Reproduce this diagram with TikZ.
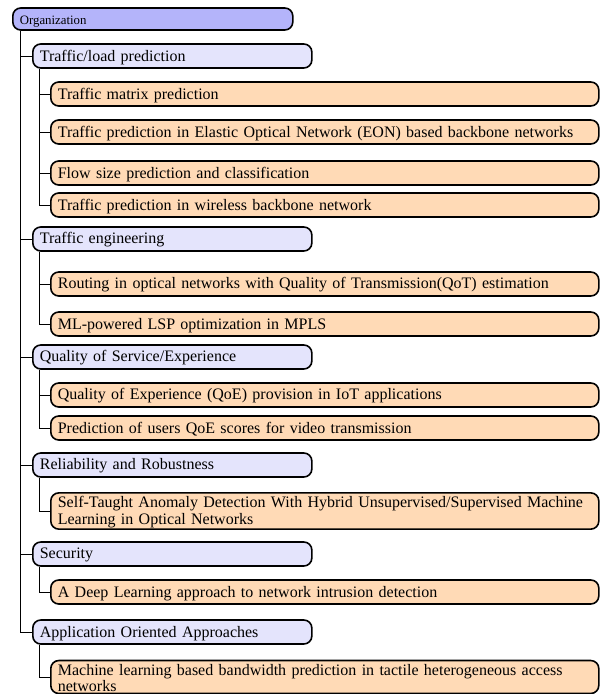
\documentclass[tikz,border=0pt]{standalone}
\usepackage{fontspec}
\setmainfont{Liberation Serif}
\usetikzlibrary{calc}
\definecolor{rootfill}{RGB}{180,180,250}
\definecolor{catfill}{RGB}{228,228,252}
\definecolor{leaffill}{RGB}{255,218,182}
\tikzset{
  box/.style={draw=black, line width=1pt, rounded corners=5pt, anchor=west,
    align=left, inner xsep=4.4pt, inner ysep=1pt,
    font=\fontsize{10}{9}\selectfont,
    execute at begin node={\rule{0pt}{8.4pt}}},
  rootbox/.style={box, fill=rootfill, text width=166.2pt, minimum height=13.75pt,
    font=\footnotesize, execute at begin node={\rule{0pt}{6.9pt}}},
  catbox/.style={box, fill=catfill, text width=165.6pt, minimum height=15pt},
  leafbox/.style={box, fill=leaffill, text width=333.7pt, minimum height=15pt},
  link/.style={draw=black, line width=0.6pt}
}
\begin{document}
\begin{tikzpicture}[x=0.625pt, y=-0.625pt]
\useasboundingbox (0,0) rectangle (602,694);

% root
\node[rootbox] (root) at (12,19) {Organization};

% categories
\node[catbox] (c1) at (32,56)  {Traffic/load prediction};
\node[catbox] (c2) at (32,239) {Traffic engineering};
\node[catbox] (c3) at (32,357) {Quality of Service/Experience};
\node[catbox] (c4) at (32,465) {Reliability and Robustness};
\node[catbox] (c5) at (32,554) {Security};
\node[catbox] (c6) at (32,632) {Application Oriented Approaches};

% leaves
\node[leafbox] (l11) at (50,94)  {Traffic matrix prediction};
\node[leafbox] (l12) at (50,132) {Traffic prediction in Elastic Optical Network (EON) based backbone networks};
\node[leafbox] (l13) at (50,173) {Flow size prediction and classification};
\node[leafbox] (l14) at (50,205) {Traffic prediction in wireless backbone network};
\node[leafbox] (l21) at (50,284) {Routing in optical networks with Quality of Transmission(QoT) estimation};
\node[leafbox] (l22) at (50,324) {ML-powered LSP optimization in MPLS};
\node[leafbox] (l31) at (50,395) {Quality of Experience (QoE) provision in IoT applications};
\node[leafbox] (l32) at (50,428) {Prediction of users QoE scores for video transmission};
\node[leafbox] (l41) at (50,511) {Self-Taught Anomaly Detection With Hybrid Unsupervised/Supervised Machine Learning in Optical Networks};
\node[leafbox] (l51) at (50,592) {A Deep Learning approach to network intrusion detection};
\node[leafbox] (l61) at (50,677) {Machine learning based bandwidth prediction in tactile heterogeneous access networks};

% root to categories
\foreach \c in {c1,c2,c3,c4,c5,c6}
  \draw[link] ($(root.south west)+(8,0)$) |- (\c.west);

% categories to leaves
\foreach \c/\l in {c1/l11,c1/l12,c1/l13,c1/l14,c2/l21,c2/l22,c3/l31,c3/l32,c4/l41,c5/l51,c6/l61}
  \draw[link] ($(\c.south west)+(7,0)$) |- (\l.west);
\end{tikzpicture}
\end{document}
